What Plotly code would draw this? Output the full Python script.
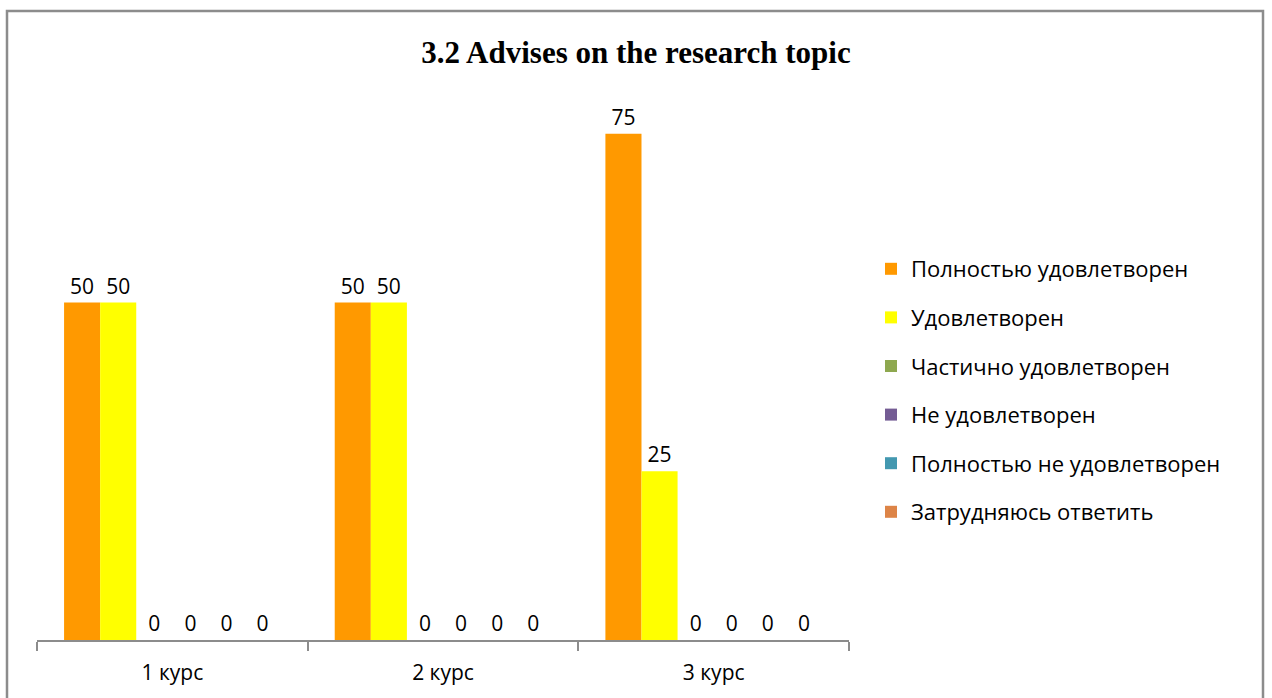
import plotly.graph_objects as go

categories = ["1 курс", "2 курс", "3 курс"]
series_names = [
    "Полностью удовлетворен",
    "Удовлетворен",
    "Частично удовлетворен",
    "Не удовлетворен",
    "Полностью не удовлетворен",
    "Затрудняюсь ответить",
]
full = [50, 50, 75]
satisfied = [50, 50, 25]
partial = [0, 0, 0]
not_sat = [0, 0, 0]
fully_not = [0, 0, 0]
hard = [0, 0, 0]
values = [full, satisfied, partial, not_sat, fully_not, hard]
colors = ["#FF9900", "#FFFF00", "#8EA84F", "#745C94", "#4398B0", "#DD8447"]

W, H = 1272, 698
L, R, T, B = 37, 849, 100, 640
pw, ph = R - L, B - T

fig = go.Figure()
for name, vals, col in zip(series_names, values, colors):
    fig.add_trace(go.Bar(
        name=name, legendgroup=name, x=categories, y=vals,
        marker=dict(color=col, line=dict(width=0)),
        text=[str(v) for v in vals], textposition="outside", cliponaxis=False,
        constraintext="none",
        textfont=dict(family="Open Sans", size=21, color="#000000"),
    ))

def px_x(p):
    return (p - L) / pw

def px_y(p):
    return (B - p) / ph

fig.update_layout(
    width=W, height=H,
    margin=dict(l=L, r=W - R, t=T, b=H - B, autoexpand=False),
    paper_bgcolor="white", plot_bgcolor="white",
    barmode="group", bargap=0.2, bargroupgap=0,
    title=dict(text="<b>3.2 Advises on the research topic</b>", x=0.5, xref="container",
               xanchor="center", y=1 - 52 / H, yanchor="middle",
               font=dict(family="Liberation Serif", size=31, color="#000000")),
    showlegend=True,
    legend=dict(x=px_x(871), xanchor="left", y=px_y(248), yanchor="top",
                font=dict(family="Open Sans", size=22, color="#000000"),
                tracegroupgap=17, itemwidth=30, bgcolor="rgba(0,0,0,0)"),
    xaxis=dict(showline=True, linecolor="#8C8C8C", linewidth=1.5,
               ticks="outside", tickson="boundaries", ticklen=9, tickcolor="#8C8C8C",
               tickwidth=1.5, showgrid=False, ticklabelstandoff=13,
               tickfont=dict(family="Open Sans", size=21, color="#000000")),
    yaxis=dict(range=[0, 80], visible=False, showgrid=False, zeroline=False),
    shapes=[dict(type="rect", xref="paper", yref="paper",
                 x0=px_x(7), x1=px_x(1263), y0=px_y(710), y1=px_y(11),
                 line=dict(color="#8C8C8C", width=2.5), fillcolor="rgba(0,0,0,0)",
                 layer="below")],
)

fig.write_html("out.html", config={"displayModeBar": False},
               post_script="document.body.style.margin='0';")
